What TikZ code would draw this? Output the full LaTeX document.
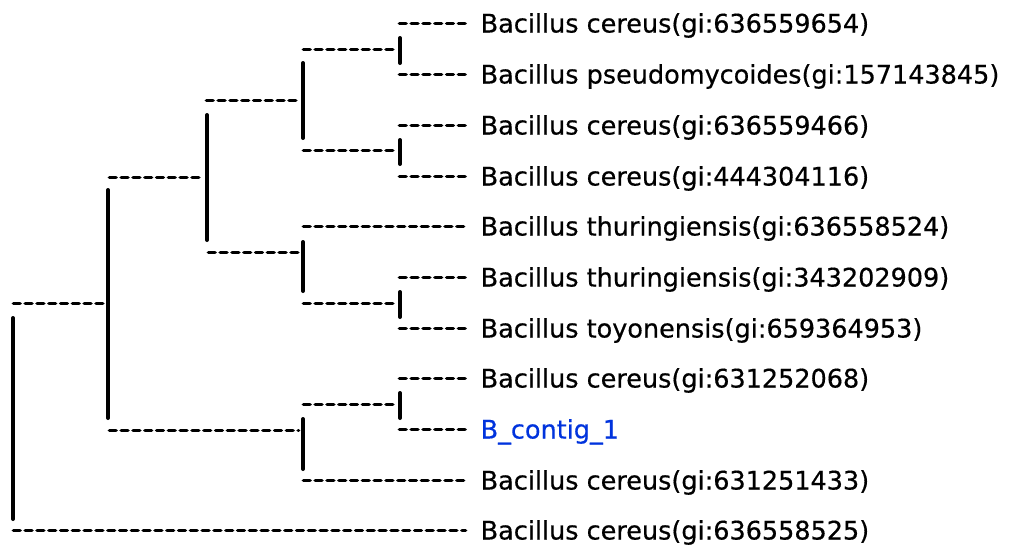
\documentclass[tikz,border=0pt]{standalone}
\usepackage{fontspec}
\setmainfont{DejaVu Sans}
\newfontfamily\leaffont{DejaVu Sans}[FakeBold=0.5]
\definecolor{contigblue}{RGB}{0,51,221}
\begin{document}
\begin{tikzpicture}[x=1pt,y=-1pt,
  hdash/.style={line width=3.8pt,line cap=round,dash pattern=on 6.6pt off 5.2pt},
  vbar/.style={line width=4pt,line cap=round},
  leaf/.style={anchor=base west,inner sep=0pt,font=\leaffont\fontsize{25.5}{30}\selectfont}]
\useasboundingbox (0,0) rectangle (1010,546);
% leaf rows: index / y / line start x / label
\foreach \i/\y/\sx/\t in {0/23.5/399.5/{Bacillus cereus(gi:636559654)},
                   1/74.5/399.5/{Bacillus pseudomycoides(gi:157143845)},
                   2/125.5/399.5/{Bacillus cereus(gi:636559466)},
                   3/176.5/399.5/{Bacillus cereus(gi:444304116)},
                   4/226.5/303.5/{Bacillus thuringiensis(gi:636558524)},
                   5/277.5/399.5/{Bacillus thuringiensis(gi:343202909)},
                   6/328.5/399.5/{Bacillus toyonensis(gi:659364953)},
                   7/378.5/399.5/{Bacillus cereus(gi:631252068)},
                   8/429.5/399.5/{\textcolor{contigblue}{B\_contig\_1}},
                   9/480.5/303.5/{Bacillus cereus(gi:631251433)},
                   10/530.5/13.5/{Bacillus cereus(gi:636558525)}}{
  \node[leaf] (l\i) at (480.5,\y+9) {\t};
  \coordinate (s\i) at (\sx,\y);
  \coordinate (e\i) at (465.5,\y);
  \draw[hdash] (s\i) -- (e\i);
}
% internal nodes: name / bar x / y / left start x / bar top / bar bottom
\foreach \n/\bx/\ny/\lx/\bt/\bb in {p01/400/49.5/303.5/38/63,
                                   p23/400/150.5/303.5/140/164,
                                   pA/303/100.5/206.5/63/138,
                                   p56/400/303.5/303.5/292/317,
                                   pB/303/252.5/208.5/242/291,
                                   pC/207/177.5/109.5/115/240,
                                   pD/400/404.5/303.5/393/418,
                                   pE/303/430.5/109.5/419/469,
                                   pF/108/303.5/13.5/190/418}{
  \coordinate (\n) at (\bx,\ny);
  \coordinate (\n L) at (\lx,\ny);
  \coordinate (\n t) at (\bx,\bt);
  \coordinate (\n b) at (\bx,\bb);
  \draw[hdash] (\n L) -- ([xshift=-4.5pt]\n);
  \draw[vbar] (\n t) -- (\n b);
}
\coordinate (roott) at (13,318);
\coordinate (rootb) at (13,519);
\draw[vbar] (roott) -- (rootb);
\end{tikzpicture}
\end{document}
